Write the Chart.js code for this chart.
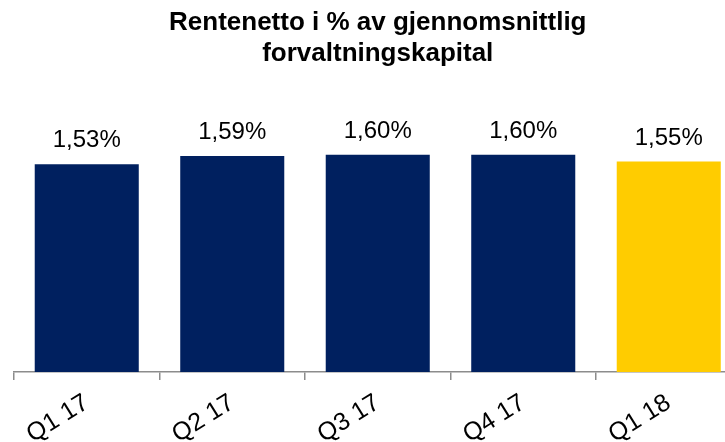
<!DOCTYPE html>
<html lang="no">
<head>
<meta charset="UTF-8">
<title>Rentenetto</title>
<script src="https://cdn.jsdelivr.net/npm/chart.js@4.4.1/dist/chart.umd.min.js"></script>
<style>
    html, body { margin: 0; padding: 0; overflow: hidden; background: #fff; }
    #wrap { position: absolute; left: 0; top: 0; }
</style>
</head>
<body>
<div id="wrap"><canvas id="chart" width="754" height="442"></canvas></div>
<script>
// data
var categories = ["Q1 17", "Q2 17", "Q3 17", "Q4 17", "Q1 18"];
var values = [1.53, 1.59, 1.60, 1.60, 1.55];
var barColors = ["#00205F", "#00205F", "#00205F", "#00205F", "#FFCC00"];
var titleLines = ["Rentenetto i % av gjennomsnittlig", "forvaltningskapital"];

Chart.defaults.font.family = "Arial, 'Liberation Sans', sans-serif";
Chart.defaults.color = "#000";

// etiketter over søylene
var valueLabels = {
    id: "valueLabels",
    afterDatasetsDraw: function(chart) {
        var ctx = chart.ctx;
        var meta = chart.getDatasetMeta(0);
        ctx.save();
        ctx.font = "24px Arial, 'Liberation Sans', sans-serif";
        ctx.fillStyle = "#000";
        ctx.textAlign = "center";
        ctx.textBaseline = "alphabetic";
        meta.data.forEach(function(bar, i) {
            var txt = values[i].toFixed(2).replace(".", ",") + "%";
            ctx.fillText(txt, bar.x, bar.y - 17);
        });
        ctx.restore();
    }
};

new Chart(document.getElementById("chart"), {
    type: "bar",
    data: {
        labels: categories,
        datasets: [{
            data: values,
            backgroundColor: barColors,
            borderWidth: 0,
            categoryPercentage: 1,
            barPercentage: 0.715
        }]
    },
    options: {
        responsive: false,
        animation: false,
        layout: { padding: { left: 14, right: 12.5, top: 0, bottom: 0 } },
        plugins: {
            legend: { display: false },
            tooltip: { enabled: false },
            title: {
                display: true,
                text: titleLines,
                color: "#000",
                font: { size: 26, weight: "bold" },
                lineHeight: 1.2,
                padding: { top: 7, bottom: 31 }
            }
        },
        scales: {
            x: {
                offset: true,
                grid: {
                    offset: true,
                    drawOnChartArea: false,
                    drawTicks: true,
                    tickLength: 8,
                    color: "#8C8C8C",
                    lineWidth: 1.5
                },
                border: { display: true, color: "#8C8C8C", width: 1.5 },
                ticks: {
                    color: "#000",
                    font: { size: 25 },
                    minRotation: 32,
                    maxRotation: 32,
                    padding: 8
                },
                afterFit: function(scale) { scale.height = 70; }
            },
            y: {
                display: false,
                min: 0,
                max: 2
            }
        }
    },
    plugins: [valueLabels]
});
</script>
</body>
</html>
